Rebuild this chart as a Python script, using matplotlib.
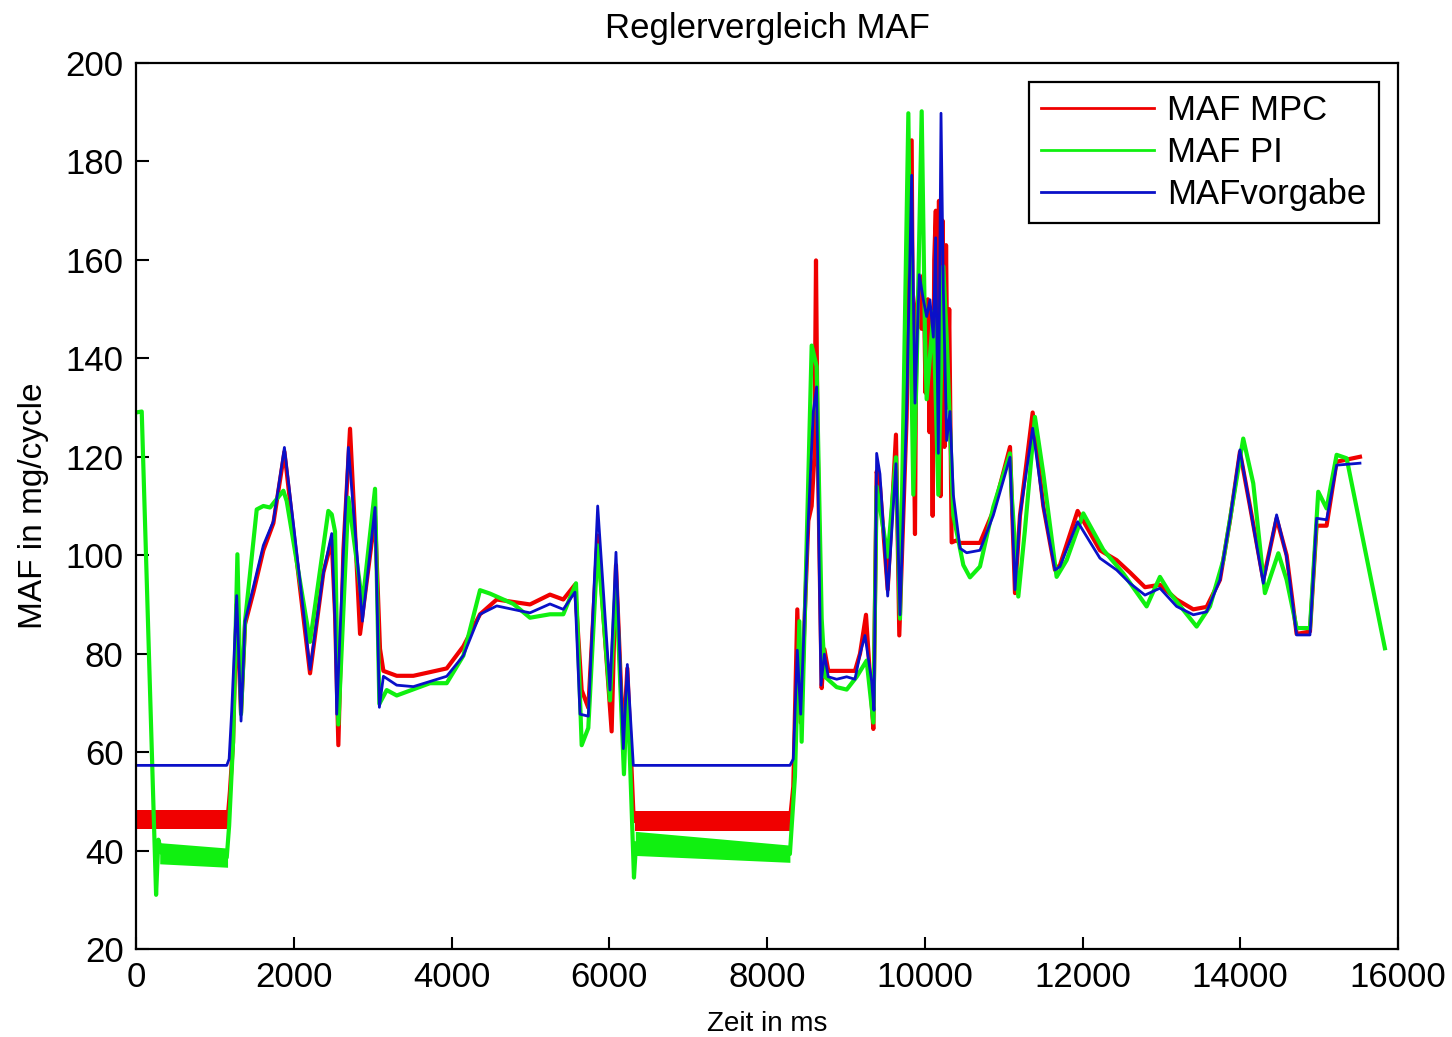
import matplotlib
matplotlib.use('Agg')
import matplotlib.pyplot as plt

plt.rcParams['font.family'] = ['Liberation Sans', 'DejaVu Sans']

# MAF Vorgabe (Sollwert)
vorgabe_t = [0, 1150, 1180, 1213, 1276, 1331, 1382, 1488, 1614, 1741,
             1881, 2037, 2206, 2375, 2481, 2523, 2544, 2629, 2692, 2870,
             3030, 3085, 3136, 3305, 3516, 3939, 4150, 4361, 4573, 4868,
             4995, 5248, 5417, 5565, 5629, 5734, 5853, 6009, 6085, 6178,
             6229, 6305, 8291, 8333, 8384, 8427, 8524, 8587, 8629, 8684,
             8727, 8777, 8883, 9010, 9115, 9179, 9242, 9327, 9356, 9390,
             9432, 9530, 9635, 9686, 9770, 9834, 9876, 9931, 9982, 10024,
             10066, 10109, 10138, 10172, 10206, 10235, 10278, 10320, 10362, 10447,
             10531, 10700, 10869, 11081, 11144, 11207, 11368, 11503, 11651, 11714,
             11938, 12221, 12433, 12602, 12792, 12982, 13193, 13405, 13574, 13743,
             13869, 13996, 14123, 14292, 14461, 14588, 14715, 14884, 14968, 15095,
             15222, 15518]
vorgabe_maf = [57.3, 57.3, 58.6, 68.4, 91.8, 66.3, 86.6, 93.6, 102.0, 106.9,
               121.9, 100.6, 76.8, 96.4, 104.4, 86.6, 67.7, 100.6, 121.9, 86.6,
               109.7, 69.1, 75.4, 73.6, 73.3, 75.4, 79.6, 88.0, 89.7, 88.7,
               88.3, 90.1, 89.0, 92.5, 67.7, 67.3, 110.0, 72.6, 100.6, 60.7,
               77.8, 57.3, 57.3, 58.6, 80.7, 67.7, 107.3, 129.2, 134.2, 73.6,
               79.9, 75.3, 74.8, 75.3, 74.8, 79.9, 83.7, 74.4, 68.5, 120.7,
               116.5, 91.7, 118.6, 87.9, 129.2, 177.2, 130.9, 157.0, 151.9, 148.5,
               151.9, 144.3, 164.5, 120.7, 189.8, 154.4, 123.3, 129.2, 112.3, 101.4,
               100.5, 101.0, 108.1, 119.9, 93.0, 108.1, 125.8, 109.9, 97.0, 97.7,
               106.8, 99.4, 97.0, 94.3, 91.9, 93.3, 89.6, 87.9, 88.5, 95.0,
               107.2, 121.4, 109.9, 94.3, 108.2, 99.7, 83.8, 83.8, 107.5, 107.2,
               118.3, 118.7]

# MAF mit MPC-Regler
mpc_t = [0, 1160, 1190, 1230, 1276, 1331, 1382, 1488, 1614, 1741,
         1881, 2037, 2206, 2375, 2481, 2523, 2565, 2629, 2713, 2840,
         3030, 3093, 3136, 3305, 3516, 3939, 4150, 4361, 4573, 4995,
         5248, 5417, 5565, 5650, 5734, 5853, 6030, 6085, 6178, 6229,
         6310, 8290, 8333, 8384, 8427, 8524, 8566, 8600, 8621, 8640,
         8693, 8727, 8777, 9115, 9179, 9255, 9327, 9348, 9390, 9432,
         9530, 9635, 9677, 9770, 9834, 9850, 9876, 9895, 9930, 9960,
         9985, 10010, 10040, 10060, 10080, 10100, 10120, 10140, 10160, 10180,
         10200, 10225, 10250, 10270, 10290, 10310, 10341, 10400, 10450, 10700,
         10869, 11081, 11144, 11207, 11368, 11503, 11651, 11714, 11938, 12221,
         12433, 12602, 12792, 12982, 13193, 13405, 13574, 13743, 13869, 13996,
         14123, 14292, 14461, 14588, 14715, 14884, 14968, 15095, 15222, 15518]
mpc_maf = [46.2, 46.2, 52.0, 62.0, 90.0, 68.0, 86.0, 92.5, 101.0, 106.5,
           121.0, 99.0, 76.0, 96.5, 103.0, 88.0, 61.4, 101.0, 125.7, 84.0,
           108.0, 81.0, 76.5, 75.5, 75.5, 77.0, 81.5, 88.0, 91.0, 90.0,
           92.0, 91.0, 94.0, 72.6, 69.0, 104.0, 64.2, 98.0, 62.0, 77.0,
           46.0, 46.0, 53.0, 89.0, 66.0, 107.0, 110.0, 120.0, 159.9, 125.0,
           73.0, 80.9, 76.5, 76.5, 80.0, 87.9, 70.0, 64.7, 117.0, 114.0,
           93.0, 124.5, 83.7, 128.0, 184.3, 142.0, 104.3, 150.0, 155.0, 146.0,
           157.0, 133.0, 152.0, 125.0, 150.0, 108.0, 160.0, 170.0, 128.0, 172.0,
           112.0, 168.0, 122.0, 163.0, 130.0, 150.0, 102.6, 103.0, 102.5, 102.5,
           109.0, 122.0, 92.3, 108.0, 129.0, 110.0, 97.0, 98.0, 109.0, 101.0,
           99.0, 96.5, 93.5, 94.0, 91.0, 89.0, 89.5, 95.0, 107.0, 121.0,
           110.0, 95.0, 107.5, 100.0, 84.0, 84.5, 106.0, 106.0, 119.0, 120.0]

# MAF mit PI-Regler
pi_t = [0, 72, 254, 283, 325, 1150, 1180, 1230, 1285, 1331,
        1382, 1530, 1614, 1699, 1783, 1868, 1910, 2206, 2438, 2481,
        2523, 2565, 2692, 2870, 3030, 3085, 3178, 3305, 3727, 3939,
        4150, 4361, 4488, 4784, 4995, 5248, 5417, 5578, 5650, 5734,
        5853, 6009, 6085, 6186, 6229, 6313, 6340, 8290, 8354, 8410,
        8439, 8566, 8629, 8693, 8735, 8883, 9010, 9137, 9263, 9348,
        9390, 9530, 9635, 9686, 9792, 9822, 9855, 9897, 9961, 10003,
        10024, 10109, 10172, 10235, 10278, 10362, 10489, 10573, 10700, 10869,
        11080, 11102, 11186, 11270, 11397, 11503, 11672, 11799, 12010, 12264,
        12517, 12813, 12982, 13108, 13447, 13616, 13785, 14038, 14165, 14313,
        14483, 14588, 14715, 14884, 14989, 15095, 15222, 15349, 15834]
pi_maf = [129.0, 129.2, 31.0, 42.2, 39.5, 38.6, 45.0, 62.0, 100.2, 67.7,
          86.6, 109.3, 110.0, 109.7, 111.4, 113.1, 111.0, 82.4, 109.0, 108.3,
          104.8, 65.6, 111.7, 90.1, 113.5, 69.8, 72.6, 71.5, 74.0, 74.0,
          79.6, 92.9, 92.2, 90.1, 87.3, 88.0, 88.0, 94.3, 61.4, 64.9,
          102.0, 70.5, 95.0, 55.5, 74.0, 34.5, 41.5, 39.3, 55.0, 86.6,
          62.1, 142.6, 138.4, 87.1, 75.3, 73.2, 72.7, 75.3, 78.6, 66.0,
          114.0, 99.7, 119.9, 87.1, 189.8, 146.0, 112.3, 137.6, 190.2, 144.3,
          131.7, 149.4, 112.3, 158.7, 144.3, 108.1, 98.0, 95.5, 97.7, 109.8,
          120.7, 112.3, 91.6, 105.1, 128.1, 116.6, 95.6, 99.0, 108.5, 101.1,
          96.3, 89.6, 95.6, 92.3, 85.5, 89.6, 99.0, 123.7, 114.6, 92.3,
          100.4, 95.0, 85.2, 85.2, 112.9, 109.5, 120.4, 119.7, 81.1]

# Rauschbaender in den Schubphasen (unten / oben)
mpc_band_t = [[0, 1160], [6320, 8290]]
mpc_band_lo = [[44.3, 44.3], [43.9, 43.9]]
mpc_band_hi = [[48.2, 48.2], [48.1, 48.1]]
pi_band_t = [[300, 1160], [6330, 8290]]
pi_band_lo = [[37.3, 36.6], [39.0, 37.6]]
pi_band_hi = [[41.6, 40.5], [43.9, 41.1]]

RED = '#f00000'
GREEN = '#10f010'
BLUE = '#0a10c8'

fig = plt.figure(figsize=(14.52, 10.37), dpi=100)
ax = fig.add_axes([0.0937, 0.0849, 0.8691, 0.8543])

for t, lo, hi in zip(mpc_band_t, mpc_band_lo, mpc_band_hi):
    ax.fill_between(t, lo, hi, color=RED, lw=0)
ax.plot(mpc_t, mpc_maf, color=RED, lw=3.0, label='MAF MPC')

for t, lo, hi in zip(pi_band_t, pi_band_lo, pi_band_hi):
    ax.fill_between(t, lo, hi, color=GREEN, lw=0)
ax.plot(pi_t, pi_maf, color=GREEN, lw=3.0, label='MAF PI')

ax.plot(vorgabe_t, vorgabe_maf, color=BLUE, lw=2.0, label='MAFvorgabe')

ax.set_xlim(0, 16000)
ax.set_ylim(20, 200)
ax.set_xticks(range(0, 16001, 2000))
ax.set_yticks(range(20, 201, 20))
ax.tick_params(direction='in', length=9, width=1.5, labelsize=25, pad=9)
for s in ax.spines.values():
    s.set_linewidth(1.6)

ax.set_title('Reglervergleich MAF', fontsize=25, pad=18)
ax.set_xlabel('Zeit in ms', fontsize=20, labelpad=12)
ax.set_ylabel('MAF in mg/cycle', fontsize=24, labelpad=12)

leg = ax.legend(loc='upper right', fontsize=25, handlelength=3.25,
                handletextpad=0.4, labelspacing=0.25, borderpad=0.35,
                borderaxespad=0.55, fancybox=False, framealpha=1)
leg.get_frame().set_edgecolor('black')
leg.get_frame().set_linewidth(1.6)
for line in leg.get_lines():
    line.set_linewidth(2.0)

fig.savefig('out.png', dpi=100)
